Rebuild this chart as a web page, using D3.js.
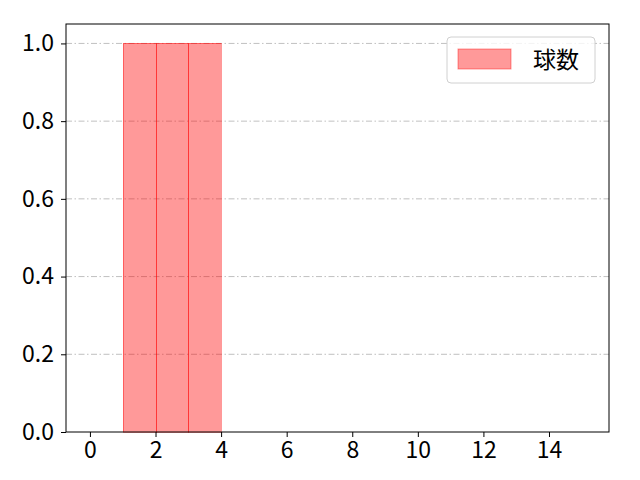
<!DOCTYPE html>
<html>
<head>
<meta charset="utf-8">
<script src="https://cdn.jsdelivr.net/npm/d3@7"></script>
<style>
body { margin: 0; background: #fff; }
text { font-family: "Noto Sans CJK JP", "Noto Sans", sans-serif; }
</style>
</head>
<body>
<div id="chart"></div>
<script>
// histogram bins (left edge, right edge, count)
var binStarts = [1, 2, 3];
var binEnds = [2, 3, 4];
var counts = [1, 1, 1];
var xTicks = [0, 2, 4, 6, 8, 10, 12, 14];
var yTicks = [0, 0.2, 0.4, 0.6, 0.8, 1.0];
var seriesName = "球数";

var W = 640, H = 480;
var margin = {top: 24, right: 31, bottom: 48, left: 66},
  width = W - margin.left - margin.right,
  height = H - margin.top - margin.bottom;

var svg = d3.select('#chart')
  .append('svg')
    .attr('width', W)
    .attr('height', H)
  .append('g')
    .attr('transform', 'translate(' + margin.left + ',' + margin.top + ')');

var x = d3.scaleLinear()
  .domain([-0.73, 15.83])
  .range([0, width]);

var y = d3.scaleLinear()
  .domain([0, 1.05])
  .range([height, 0]);

// grid
svg.selectAll('.grid')
  .data(yTicks.filter(function(d) { return d > 0; }))
  .enter()
  .append('line')
    .attr('x1', 0)
    .attr('x2', width)
    .attr('y1', function(d) { return y(d); })
    .attr('y2', function(d) { return y(d); })
    .attr('stroke', '#b0b0b0')
    .attr('stroke-width', 0.8)
    .attr('stroke-dasharray', '6,2.5,1.5,2.5');

// bars
var bins = binStarts.map(function(s, i) { return {x0: s, x1: binEnds[i], v: counts[i]}; });
svg.selectAll('.bar')
  .data(bins)
  .enter()
  .append('rect')
    .attr('x', function(d) { return Math.round(x(d.x0)); })
    .attr('y', function(d) { return y(d.v); })
    .attr('width', function(d) { return Math.round(x(d.x1)) - Math.round(x(d.x0)); })
    .attr('height', function(d) { return height - y(d.v); })
    .attr('fill', 'rgba(255,0,0,0.4)')
    .attr('stroke', 'rgba(255,0,0,0.4)')
    .attr('stroke-width', 1)
    .attr('shape-rendering', 'crispEdges');

// axes
var xAxis = svg.append('g')
  .attr('transform', 'translate(0,' + height + ')')
  .call(d3.axisBottom(x).tickValues(xTicks).tickFormat(d3.format('d')).tickSize(5).tickPadding(5));
var yAxis = svg.append('g')
  .call(d3.axisLeft(y).tickValues(yTicks).tickFormat(d3.format('.1f')).tickSize(5).tickPadding(7));

[xAxis, yAxis].forEach(function(a) {
  a.attr('font-size', null).attr('font-family', null);
  a.select('.domain').remove();
  a.selectAll('line').attr('stroke', '#000').attr('stroke-width', 1);
  a.selectAll('text').attr('fill', '#000').style('font-size', '23px');
});

// frame
svg.append('rect')
  .attr('x', 0).attr('y', 0)
  .attr('width', width).attr('height', height)
  .attr('fill', 'none')
  .attr('stroke', '#000')
  .attr('stroke-width', 1);

// legend
var lg = svg.append('g').attr('transform', 'translate(' + (447 - margin.left) + ',' + (37 - margin.top) + ')');
lg.append('rect')
  .attr('width', 148).attr('height', 46)
  .attr('rx', 4)
  .attr('fill', 'rgba(255,255,255,0.8)')
  .attr('stroke', '#d0d0d0')
  .attr('stroke-width', 1);
lg.append('rect')
  .attr('x', 11).attr('y', 12)
  .attr('width', 53).attr('height', 20)
  .attr('fill', 'rgba(255,0,0,0.4)')
  .attr('stroke', 'rgba(255,0,0,0.4)');
lg.append('text')
  .attr('x', 86).attr('y', 23)
  .attr('dy', '0.35em')
  .style('font-size', '23px')
  .text(seriesName);
</script>
</body>
</html>
